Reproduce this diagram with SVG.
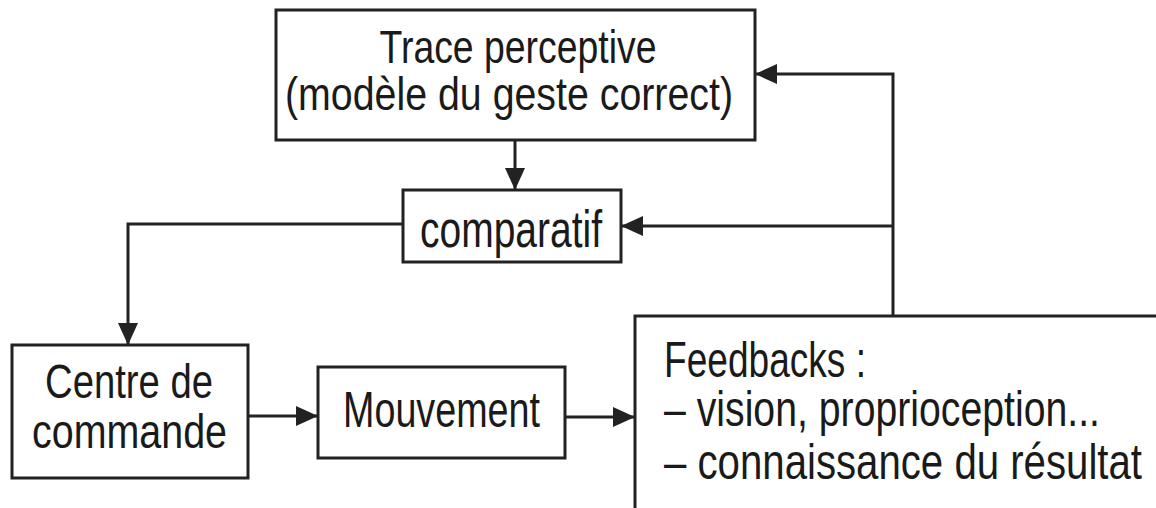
<svg xmlns="http://www.w3.org/2000/svg" width="1156" height="508" viewBox="0 0 1156 508">
<style>
.box{fill:#fff;stroke:#222;stroke-width:3}
.ln{fill:none;stroke:#222;stroke-width:3}
.t{font-family:"Liberation Sans Narrow","Liberation Sans",Arial,sans-serif;fill:#1a1a1a}
.c{text-anchor:middle}
</style>
<defs>
<marker id="ah" markerUnits="userSpaceOnUse" markerWidth="22" markerHeight="20" refX="22" refY="10" orient="auto">
<path d="M0,0 L22,10 L0,20 z" fill="#222"/>
</marker>
</defs>
<rect width="1156" height="508" fill="#fff"/>
<g id="connectors">
<line class="ln" x1="515" y1="140" x2="515" y2="190" marker-end="url(#ah)"/>
<polyline class="ln" points="403,224 128,224 128,345" marker-end="url(#ah)"/>
<line class="ln" x1="248" y1="416" x2="318" y2="416" marker-end="url(#ah)"/>
<line class="ln" x1="565" y1="417" x2="635" y2="417" marker-end="url(#ah)"/>
<polyline class="ln" points="893,316 893,74 755,74" marker-end="url(#ah)"/>
<line class="ln" x1="893" y1="226" x2="621" y2="226" marker-end="url(#ah)"/>
</g>
<g id="trace">
<rect class="box" x="276" y="10" width="479" height="130"/>
<text class="t c" x="518" y="63" font-size="46" textLength="277" lengthAdjust="spacingAndGlyphs">Trace perceptive</text>
<text class="t c" x="509" y="110" font-size="46" textLength="448" lengthAdjust="spacingAndGlyphs">(modèle du geste correct)</text>
</g>
<g id="comparatif">
<rect class="box" x="403" y="190" width="218" height="72"/>
<text class="t c" x="511" y="247" font-size="52" textLength="182" lengthAdjust="spacingAndGlyphs">comparatif</text>
</g>
<g id="centre">
<rect class="box" x="12" y="345" width="236" height="133"/>
<text class="t c" x="129" y="398" font-size="48" textLength="168" lengthAdjust="spacingAndGlyphs">Centre de</text>
<text class="t c" x="129.5" y="448" font-size="48" textLength="195" lengthAdjust="spacingAndGlyphs">commande</text>
</g>
<g id="mouvement">
<rect class="box" x="318" y="367" width="247" height="91"/>
<text class="t c" x="441.5" y="427" font-size="50" textLength="197" lengthAdjust="spacingAndGlyphs">Mouvement</text>
</g>
<g id="feedbacks">
<rect class="box" x="635" y="316" width="600" height="300"/>
<text class="t" x="664" y="377" font-size="50" textLength="202" lengthAdjust="spacingAndGlyphs">Feedbacks :</text>
<text class="t" x="664" y="426" font-size="50" textLength="436" lengthAdjust="spacingAndGlyphs">– vision, proprioception...</text>
<text class="t" x="664" y="479" font-size="50" textLength="478" lengthAdjust="spacingAndGlyphs">– connaissance du résultat</text>
</g>
</svg>
